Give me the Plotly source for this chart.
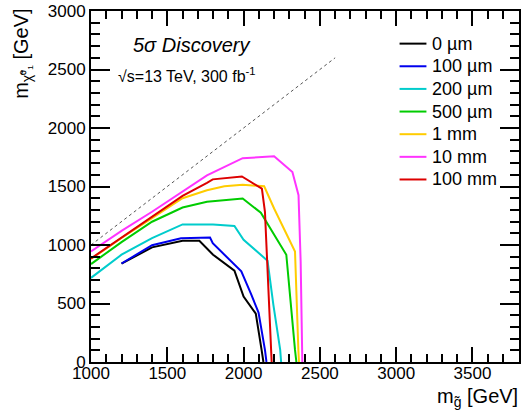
import plotly.graph_objects as go

# Discovery contours in the (gluino mass, neutralino mass) plane, one per lifetime
labels = ["0 µm", "100 µm", "200 µm", "500 µm", "1 mm", "10 mm", "100 mm"]
colors = ["#000000", "#0000ee", "#00cccc", "#00cc00", "#ffcc00", "#ff33ff", "#dd0000"]

m_gluino = [
    [1200, 1400, 1600, 1710, 1800, 1940, 2000, 2080, 2118, 2130],
    [1200, 1400, 1590, 1780, 1798, 1985, 2050, 2098, 2140, 2150],
    [1000, 1200, 1400, 1600, 1800, 1940, 2000, 2157, 2195, 2240, 2246],
    [1000, 1200, 1400, 1600, 1760, 1994, 2113, 2280, 2337, 2346],
    [1000, 1200, 1400, 1600, 1760, 1874, 1994, 2135, 2200, 2337, 2359, 2363],
    [1000, 1200, 1400, 1600, 1760, 1994, 2200, 2320, 2360, 2374, 2385],
    [1000, 1200, 1400, 1600, 1760, 1798, 1989, 2120, 2140, 2178, 2184],
]
m_neutralino = [
    [840, 980, 1036, 1036, 917, 781, 560, 414, 103, 0],
    [842, 998, 1058, 1064, 1015, 775, 578, 422, 103, 0],
    [719, 917, 1058, 1176, 1176, 1162, 1044, 866, 490, 103, 0],
    [837, 1025, 1199, 1320, 1369, 1397, 1276, 917, 103, 0],
    [880, 1060, 1230, 1400, 1468, 1502, 1516, 1502, 1312, 945, 103, 0],
    [945, 1120, 1284, 1460, 1595, 1742, 1758, 1623, 1425, 860, 0],
    [885, 1065, 1245, 1420, 1532, 1561, 1586, 1481, 1284, 103, 0],
]

# kinematic boundary m_chi = m_gluino
diag = [1000, 2600]

fig = go.Figure()
fig.add_trace(go.Scatter(x=diag, y=diag, mode="lines", showlegend=False,
                         line=dict(color="#555555", width=1, dash="dot")))
for i, (lab, col) in enumerate(zip(labels, colors)):
    fig.add_trace(go.Scatter(x=m_gluino[i], y=m_neutralino[i], mode="lines", name=lab,
                             showlegend=False, line=dict(color=col, width=2)))

font = "Liberation Sans, Arial, Helvetica, sans-serif"
axis_common = dict(
    showgrid=False, zeroline=False, showline=True, linecolor="black", linewidth=2,
    mirror="allticks", ticks="inside", tickcolor="black", tickwidth=1.5,
    tickfont=dict(family=font, size=17, color="black"), ticklabeloverflow="allow",
)
fig.update_xaxes(range=[1000, 3805], dtick=500, tick0=1000, ticklen=15, ticklabelstandoff=-5,
                 minor=dict(dtick=100, ticklen=8, ticks="inside", tickcolor="black", tickwidth=1.5),
                 **axis_common)
fig.update_yaxes(range=[0, 3000], dtick=500, tick0=0, ticklen=19,
                 minor=dict(dtick=100, ticklen=9, ticks="inside", tickcolor="black", tickwidth=1.5),
                 **axis_common)

W, H = 523, 418
L, R, T, B = 91, 2, 7, 56
pw, ph = W - L - R, H - T - B


def px(x):
    return (x - L) / pw


def py(y):
    return (H - B - y) / ph


annotations = [
    dict(text="<i>5σ Discovery</i>", x=px(192), y=py(41), xref="paper", yref="paper",
         showarrow=False, font=dict(size=20, family=font), xanchor="center", yanchor="middle"),
    dict(text="√s=13 TeV, 300 fb<sup>-1</sup>", x=px(116), y=py(72), xref="paper", yref="paper",
         showarrow=False, font=dict(size=16, family=font), xanchor="left", yanchor="middle"),
    dict(text="m<sub>g̃</sub> [GeV]", x=px(522), y=py(398), xref="paper", yref="paper",
         showarrow=False, font=dict(size=20, family=font), xanchor="right", yanchor="middle"),
    dict(text="m<sub>χ̃⁰₁</sub> [GeV]", x=px(22), y=py(50), xref="paper", yref="paper",
         showarrow=False, textangle=-90, font=dict(size=20, family=font),
         xanchor="center", yanchor="middle"),
]

# legend: a short coloured line and its label per lifetime
shapes = []
row0, row_step = 40, 22.9
for i, (lab, col) in enumerate(zip(labels, colors)):
    yy = py(row0 + i * row_step)
    shapes.append(dict(type="line", xref="paper", yref="paper", x0=px(401), x1=px(428),
                       y0=yy, y1=yy, line=dict(color=col, width=2)))
    annotations.append(dict(text=lab, x=px(432), y=yy, xref="paper", yref="paper",
                            showarrow=False, font=dict(size=18, family=font),
                            xanchor="left", yanchor="middle"))

fig.update_layout(
    width=W, height=H, margin=dict(l=L, r=R, t=T, b=B),
    paper_bgcolor="white", plot_bgcolor="white",
    font=dict(family=font, color="black"),
    showlegend=False,
    annotations=annotations, shapes=shapes,
)

fig.write_html("out.html")
